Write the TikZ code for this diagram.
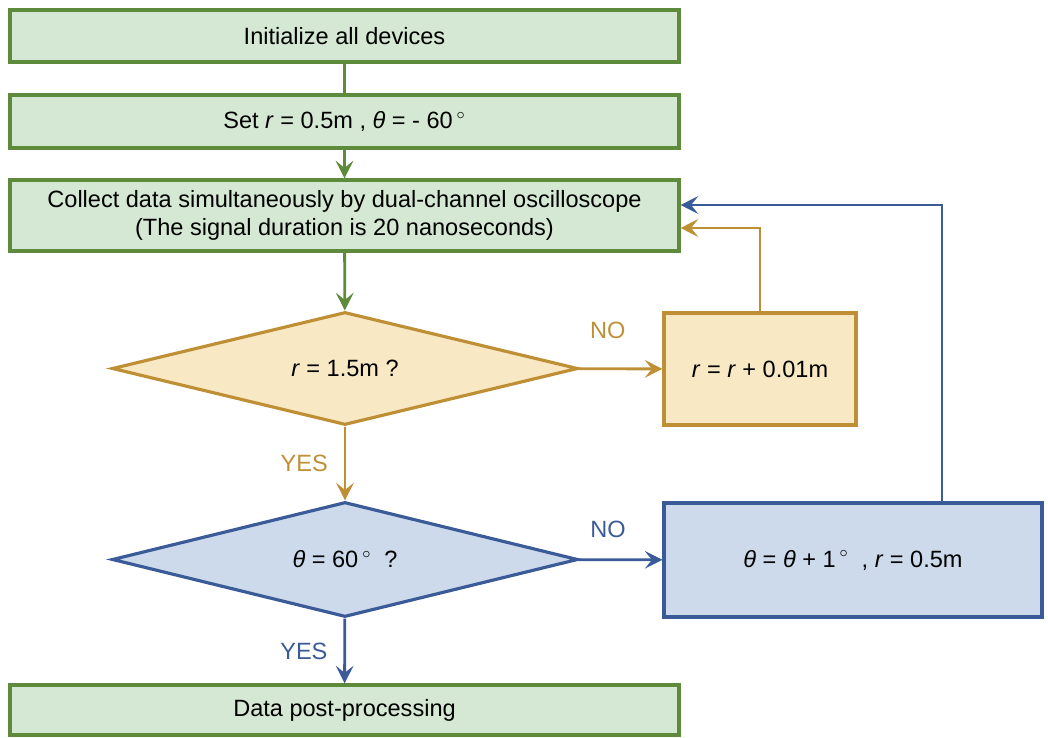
\documentclass[tikz,border=0pt]{standalone}
\usepackage{fontspec}
\setmainfont{Liberation Sans}
\usetikzlibrary{arrows.meta,shapes.geometric}
\definecolor{gfill}{HTML}{D5E8D4}
\definecolor{gline}{HTML}{5E8A3C}
\definecolor{ofill}{HTML}{F9E8C4}
\definecolor{oline}{HTML}{BF8F36}
\definecolor{bfill}{HTML}{CCDAEB}
\definecolor{bline}{HTML}{3B5B98}
\tikzset{
  greenbox/.style={draw=gline,fill=gfill,line width=1.8pt,minimum width=13.38cm,align=center,inner sep=0pt},
  orangebox/.style={draw=oline,fill=ofill,line width=1.8pt,inner sep=0pt},
  bluebox/.style={draw=bline,fill=bfill,line width=1.8pt,inner sep=0pt},
  decision/.style={diamond,aspect=4.1,minimum width=9.32cm,inner sep=0pt,line width=1.8pt},
  tip/.style={-{Stealth[length=10pt,width=10pt,inset=4pt]}},
  glink/.style={draw=gline,line width=1.6pt},
  olink/.style={draw=oline,line width=1.6pt},
  blink/.style={draw=bline,line width=1.6pt}
}
\begin{document}
\begin{tikzpicture}[x=0.02cm,y=-0.02cm,font=\fontsize{13.4pt}{16pt}\selectfont]
\useasboundingbox (0,0) rectangle (1048,737);
% main column
\node[greenbox,minimum height=1.04cm] (init) at (344.5,36) {Initialize all devices};
\node[greenbox,minimum height=1.06cm] (set) at (344.5,121.5) {Set \textit{r} = 0.5m , \textit{θ} = - 60\,$^{\circ}$};
\node[greenbox,minimum height=1.42cm] (collect) at (344.5,215.5) {Collect data simultaneously by dual-channel oscilloscope\\(The signal duration is 20 nanoseconds)};
\node[decision,draw=oline,fill=ofill,minimum height=2.26cm] (chkr) at (345,368.5) {\textit{r} = 1.5m ?};
\node[decision,draw=bline,fill=bfill,minimum height=2.3cm] (chkt) at (345,559.5) {\textit{θ} = 60\,$^{\circ}$\ \ ?};
\node[greenbox,minimum height=1cm] (post) at (344.5,710) {Data post-processing};
% update boxes
\node[orangebox,minimum width=3.84cm,minimum height=2.24cm] (incr) at (760,369) {\textit{r} = \textit{r} + 0.01m};
\node[bluebox,minimum width=7.56cm,minimum height=2.28cm] (turn) at (853,560) {\textit{θ} = \textit{θ} + 1\,$^{\circ}$\ \ , \textit{r} = 0.5m};
\coordinate (turnup) at ([xshift=1.78cm]turn.north);
% connectors
\draw[glink] (init) -- (set);
\draw[glink,tip] (set) -- (collect);
\draw[glink,tip] (collect) -- (chkr);
\draw[olink,tip] (chkr) -- node[pos=0.35,above=0.45cm,text=oline] {NO} (incr);
\draw[olink,tip] (incr.north) |- ([yshift=-0.25cm]collect.east);
\draw[olink,tip] (chkr) -- node[midway,left=0.2cm,text=oline] {YES} (chkt);
\draw[blink,tip] (chkt) -- node[pos=0.35,above=0.3cm,text=bline] {NO} (turn);
\draw[blink,tip] (turnup) |- ([yshift=0.21cm]collect.east);
\draw[blink,tip] (chkt) -- node[midway,left=0.2cm,text=bline] {YES} (post);
\end{tikzpicture}
\end{document}
